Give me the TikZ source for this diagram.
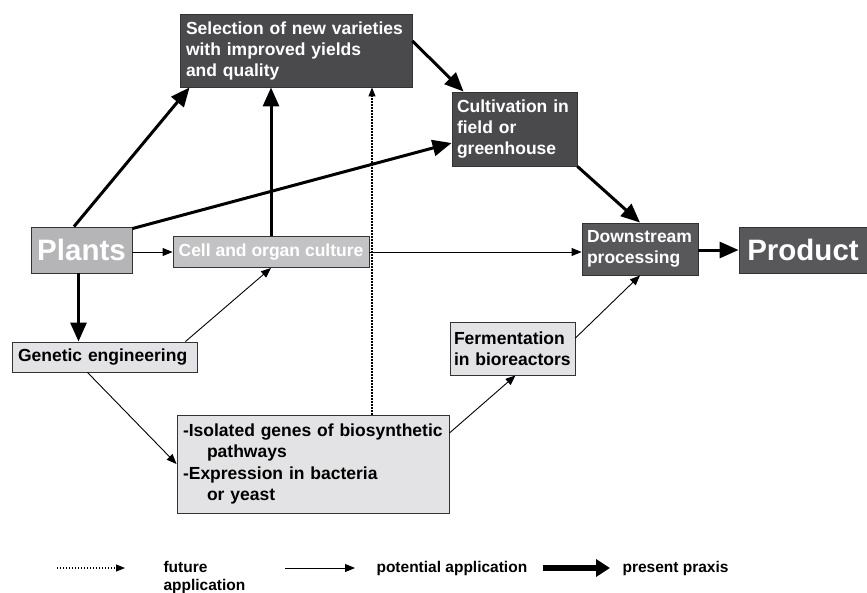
\documentclass[tikz,border=0pt]{standalone}
\usepackage{fontspec}
\setmainfont{Liberation Sans}
\usetikzlibrary{positioning,calc,arrows.meta}

\definecolor{boxline}{HTML}{333335}
\definecolor{darkfill}{HTML}{4A4A4D}
\definecolor{downfill}{HTML}{58585B}
\definecolor{plantfill}{HTML}{B5B5B7}
\definecolor{cellfill}{HTML}{C3C3C5}
\definecolor{lightfill}{HTML}{E3E3E5}

\begin{document}
\begin{tikzpicture}[x=1pt,y=-1pt,
    box/.style={draw=boxline, line width=0.9pt, inner xsep=6pt, inner ysep=0pt, align=left,
      font=\bfseries\fontsize{17.5}{21}\selectfont},
    darkbox/.style={box, fill=darkfill, text=white},
    lightbox/.style={box, fill=lightfill, text=black},
    bigbox/.style={box, align=center, text=white, font=\bfseries\fontsize{29.5}{32}\selectfont},
    potential/.style={line width=0.9pt, -{Triangle[length=10pt,width=8pt]}},
    praxis/.style={line width=3pt, -{Triangle[length=19pt,width=16pt]}},
    future/.style={dash pattern=on 1.3pt off 1.7pt, line width=1.1pt, -{Triangle[length=9pt,width=7pt]}},
    legend/.style={align=left, anchor=west, font=\bfseries\fontsize{15.5}{18}\selectfont}]
  \useasboundingbox (0,0) rectangle (867,592);

  \node[darkbox, text width=220pt, minimum height=73pt] (sel) at (296,50.5) {Selection of new varieties\\with improved yields\\and quality};
  \node[darkbox, inner xsep=5pt, text width=115pt, minimum height=74pt] (cult) at (514.5,129) {Cultivation in\\field or\\greenhouse};
  \node[darkbox, fill=downfill, inner xsep=5pt, text width=106pt, minimum height=52pt] (down) at (640,249) {Downstream\\processing};
  \node[bigbox, fill=downfill, minimum width=128pt, minimum height=46pt] (prod) at (803,250) {Product};
  \node[bigbox, fill=plantfill, minimum width=101pt, minimum height=46pt] (plants) at (81.5,250) {Plants};
  \node[box, fill=cellfill, text=white, inner xsep=3pt, minimum width=196pt, minimum height=31pt] (cell) at (271,252) {Cell and organ culture};
  \node[lightbox, text width=173pt, minimum height=30pt] (gen) at (104.5,357) {Genetic engineering};
  \node[lightbox, inner xsep=4pt, text width=117pt, minimum height=53pt] (ferm) at (512.5,348.5) {Fermentation\\in bioreactors};
  \node[lightbox, text width=260pt, minimum height=98pt, font=\bfseries\fontsize{17.5}{21.5}\selectfont] (iso) at (313,464)
    {-Isolated genes of biosynthetic\\\hspace*{24pt}pathways\\-Expression in bacteria\\\hspace*{24pt}or yeast};

  \draw[praxis] ([xshift=-7.5pt]plants.north) -- ([xshift=10pt]sel.south west);
  \draw[praxis] ([yshift=-2pt]plants.north east) -- ([yshift=-14pt]cult.west);
  \draw[potential] (plants.east |- cell.west) -- (cell.west);
  \draw[praxis] ([xshift=-3pt]plants.south) -- ([xshift=-3pt]plants.south |- gen.north);
  \draw[praxis] (cell.north) -- (cell.north |- sel.south);
  \draw[potential] ([xshift=-12pt]gen.north east) -- (cell.south);
  \draw[potential] ([xshift=-17pt]gen.south) -- (iso.west);
  \draw[potential] ([yshift=31pt]iso.east) -- ([xshift=3pt]ferm.south);
  \draw[potential] ([yshift=10.5pt]ferm.east) -- (down.south);
  \draw[potential] (cell.east) -- (cell.east -| down.west);
  \draw[future] ([xshift=59pt]iso.north) -- ([xshift=59pt]iso.north |- sel.south);
  \draw[praxis] ([yshift=9.5pt]sel.east) -- ([xshift=12pt]cult.north west);
  \draw[praxis] (cult.south east) -- (down.north);
  \draw[praxis] (down.east |- prod.west) -- (prod.west);

  % legend
  \coordinate (fut0) at (57,568);
  \coordinate (fut1) at (125,568);
  \coordinate (pot0) at (285,568);
  \coordinate (pot1) at (355,568);
  \coordinate (pra0) at (543,568);
  \coordinate (pra1) at (610,568);
  \node[legend] (futtext) at (160,577) {future\\application};
  \node[legend] (pottext) at (373,568) {potential application};
  \node[legend] (pratext) at (619,568) {present praxis};
  \draw[future] (fut0) -- (fut1);
  \draw[potential] (pot0) -- (pot1);
  \draw[praxis, line width=6pt, -{Triangle[length=14pt,width=17pt]}] (pra0) -- (pra1);
\end{tikzpicture}
\end{document}
